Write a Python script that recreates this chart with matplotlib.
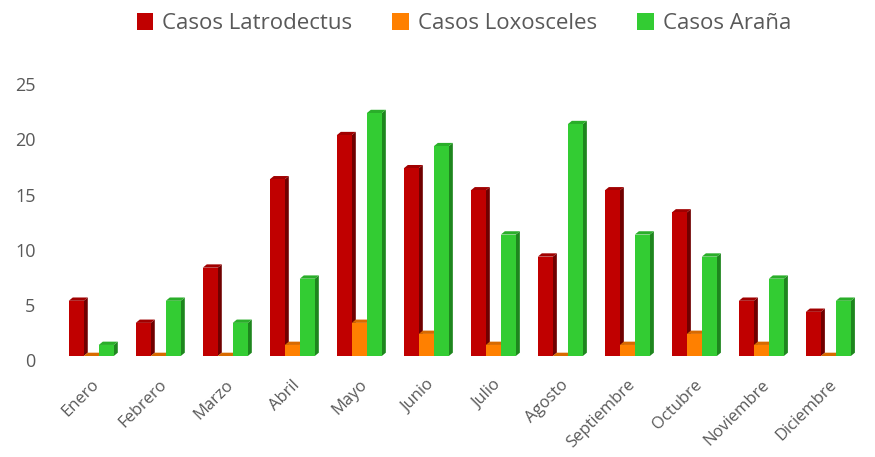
import matplotlib.pyplot as plt
import matplotlib.transforms as mtrans
import numpy as np
from matplotlib.patches import Polygon, Patch

plt.rcParams['font.family'] = ['Open Sans', 'DejaVu Sans']

meses = ['Enero', 'Febrero', 'Marzo', 'Abril', 'Mayo', 'Junio', 'Julio',
         'Agosto', 'Septiembre', 'Octubre', 'Noviembre', 'Diciembre']
latrodectus = [5, 3, 8, 16, 20, 17, 15, 9, 15, 13, 5, 4]
loxosceles = [0, 0, 0, 1, 3, 2, 1, 0, 1, 2, 1, 0]
arana = [1, 5, 3, 7, 22, 19, 11, 21, 11, 9, 7, 5]

series = [
    ('Casos Latrodectus', latrodectus, '#C00000', '#A00000', '#700000'),
    ('Casos Loxosceles', loxosceles, '#FF8000', '#D86A00', '#B85A00'),
    ('Casos Araña', arana, '#33CC33', '#2AAE2A', '#1E861E'),
]

fig = plt.figure(figsize=(8.75, 4.57), dpi=100)
ax = fig.add_axes([0.066, 0.221, 0.919, 0.604])

x = np.arange(len(meses))
w = 0.224
dx = 0.06   # profundidad en unidades de categoria
dy = 0.3    # profundidad en unidades de valor

for k, (nombre, vals, c_front, c_top, c_side) in enumerate(series):
    off = (k - 1) * w
    z = 2 + k
    for xi, h in zip(x, vals):
        x0 = xi + off - w / 2
        x1 = x0 + w
        # cara lateral
        ax.add_patch(Polygon([(x1, 0), (x1 + dx, dy), (x1 + dx, h + dy), (x1, h)],
                             closed=True, facecolor=c_side, edgecolor='none', zorder=z))
        # cara superior
        ax.add_patch(Polygon([(x0, h), (x1, h), (x1 + dx, h + dy), (x0 + dx, h + dy)],
                             closed=True, facecolor=c_top, edgecolor='none', zorder=z))
    ax.bar(x + off, vals, width=w, color=c_front, edgecolor='none', zorder=z)

ax.set_xlim(-0.5, 11.5)
ax.set_ylim(0, 25)
ax.set_yticks([0, 5, 10, 15, 20, 25])
ax.set_xticks(x)
ax.set_xticklabels(meses, rotation=45, ha='right', rotation_mode='anchor')
ax.tick_params(axis='both', length=0, colors='#595959')
ax.tick_params(axis='x', pad=15, labelsize=12)
ax.tick_params(axis='y', pad=16, labelsize=13)
for s in ax.spines.values():
    s.set_visible(False)

# las etiquetas del eje y quedan un poco por debajo de las barras (efecto 3D)
shift = mtrans.ScaledTranslation(0, -3 / 72, fig.dpi_scale_trans)
for lab in ax.get_yticklabels():
    lab.set_transform(lab.get_transform() + shift)

handles = [Patch(facecolor=c, label=n) for n, _, c, _, _ in series]
fig.legend(handles=handles, loc='upper center', bbox_to_anchor=(0.53, 1.015), ncol=3,
           frameon=False, fontsize=16, handlelength=0.75, handleheight=0.75,
           columnspacing=1.8, handletextpad=0.4, labelcolor='#595959')

fig.savefig('out.png', dpi=100)
